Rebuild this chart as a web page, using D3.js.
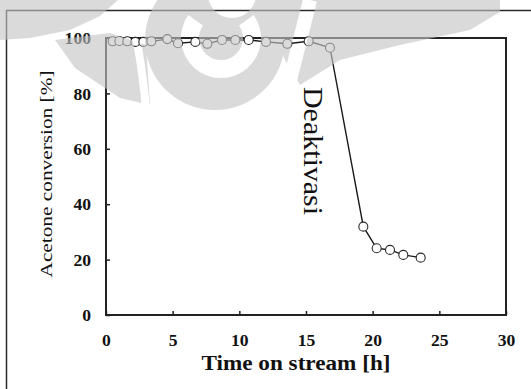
<!DOCTYPE html>
<html>
<head>
<meta charset="utf-8">
<script src="https://cdn.jsdelivr.net/npm/d3@7"></script>
<style>
  html, body { margin: 0; padding: 0; background: #fff; }
  svg { display: block; }
  text { font-family: "Liberation Serif", "Times New Roman", serif; fill: #111; }
</style>
</head>
<body>
<svg id="chart" width="531" height="389"></svg>
<script>
// Time on stream [h] and acetone conversion [%]
const timeOnStream = [0.5, 1.0, 1.6, 2.2, 2.8, 3.4, 4.6, 5.4, 6.7, 7.6, 8.7, 9.7, 10.7, 12.0, 13.6, 15.2, 16.8, 19.3, 20.3, 21.3, 22.3, 23.6];
const conversion   = [98.8, 98.9, 98.8, 98.6, 98.6, 98.8, 99.6, 98.1, 98.6, 97.9, 99.3, 99.3, 99.3, 98.6, 97.9, 98.8, 96.5, 31.9, 24.1, 23.5, 21.7, 20.7];

const xTicks = [0, 5, 10, 15, 20, 25, 30];
const yTicks = [0, 20, 40, 60, 80, 100];

const xTitle = "Time on stream [h]";
const yTitle = "Acetone conversion [%]";
const note = "Deaktivasi";

(function draw() {
  const svg = d3.select("#chart");
  const W = 531, H = 389;
  const plotL = 106, plotR = 506, plotT = 38, plotB = 315;

  const x = d3.scaleLinear().domain([0, 30]).range([plotL, plotR]);
  const y = d3.scaleLinear().domain([0, 100]).range([plotB, plotT]);

  // outer frame (only left and top edges fall inside the page)
  svg.append("path")
    .attr("d", `M6.5,${H} L6.5,10.5 L${W},10.5`)
    .attr("fill", "none").attr("stroke", "#2a2a2a").attr("stroke-width", 1.5);

  // plot border
  svg.append("rect")
    .attr("x", plotL).attr("y", plotT)
    .attr("width", plotR - plotL).attr("height", plotB - plotT)
    .attr("fill", "none").attr("stroke", "#222").attr("stroke-width", 2);

  const tickFont = sel => sel
    .style("font-family", "'Liberation Serif', serif")
    .style("font-weight", "bold").style("font-size", "16px")
    .attr("fill", "#111")
    .attr("textLength", function () { return this.textContent.length * 8.8; })
    .attr("lengthAdjust", "spacingAndGlyphs");

  // x axis with inward ticks
  const gx = svg.append("g").attr("transform", `translate(0,${plotB})`)
    .call(d3.axisBottom(x).tickValues(xTicks).tickSizeInner(-4).tickSizeOuter(0));
  gx.select(".domain").remove();
  gx.selectAll(".tick line").attr("stroke", "#222").attr("stroke-width", 1.5);
  gx.selectAll(".tick text").attr("y", 31).attr("dy", 0).call(tickFont);

  // y axis with inward ticks
  const gy = svg.append("g").attr("transform", `translate(${plotL},0)`)
    .call(d3.axisLeft(y).tickValues(yTicks).tickSizeInner(-4).tickSizeOuter(0));
  gy.select(".domain").remove();
  gy.selectAll(".tick line").attr("stroke", "#222").attr("stroke-width", 1.5);
  gy.selectAll(".tick text").attr("x", -15).attr("dy", "0.35em").call(tickFont);

  // axis titles
  svg.append("text")
    .attr("x", 296).attr("y", 370)
    .attr("text-anchor", "middle")
    .attr("textLength", 189).attr("lengthAdjust", "spacingAndGlyphs")
    .style("font-weight", "bold").style("font-size", "20px")
    .text(xTitle);

  svg.append("text")
    .attr("transform", "translate(52,174) rotate(-90)")
    .attr("text-anchor", "middle")
    .attr("textLength", 207).attr("lengthAdjust", "spacingAndGlyphs")
    .style("font-size", "17px")
    .text(yTitle);

  // series line and markers
  const pts = timeOnStream.map((t, i) => [t, conversion[i]]);
  svg.append("path")
    .datum(pts)
    .attr("fill", "none").attr("stroke", "#1a1a1a").attr("stroke-width", 1.4)
    .attr("d", d3.line().x(d => x(d[0])).y(d => y(d[1])));

  svg.selectAll("circle.pt").data(pts).enter().append("circle")
    .attr("class", "pt")
    .attr("cx", d => x(d[0])).attr("cy", d => y(d[1]))
    .attr("r", 4.5)
    .attr("fill", "#fff").attr("stroke", "#2a2a2a").attr("stroke-width", 1.1);

  // annotation for the deactivation drop
  svg.append("text")
    .attr("transform", "translate(304,87) rotate(90)")
    .attr("textLength", 128).attr("lengthAdjust", "spacingAndGlyphs")
    .style("font-size", "28px")
    .text(note);

  // translucent emblem in the page background
  const defs = svg.append("defs");
  const mask = defs.append("mask").attr("id", "emblem");
  mask.append("rect").attr("width", W).attr("height", H).attr("fill", "#000");
  const m = mask.append("g").attr("fill", "#fff");
  m.append("path").attr("d", "M0,0 L118,0 L100,16 L70,30 L30,38 L0,40 Z");
  m.append("path").attr("d", "M55,40 L110,33 L146,45 L150,105 L120,98 L75,68 Z");
  m.append("circle").attr("cx", 215).attr("cy", 40).attr("r", 70);
  m.append("path").attr("d", "M262,0 L500,0 L500,12 L470,30 L400,45 L340,60 L300,85 L285,60 Z");
  const cut = mask.append("g").attr("fill", "#000").attr("stroke", "#000");
  cut.append("circle").attr("cx", 232).attr("cy", -6).attr("r", 24).attr("stroke", "none");
  cut.append("path")
    .attr("transform", "translate(221,38)")
    .attr("stroke", "none")
    .attr("d", d3.arc().innerRadius(22).outerRadius(40)
      .startAngle(55 * Math.PI / 180).endAngle(305 * Math.PI / 180)());
  cut.append("path").attr("d", "M126,0 Q140,40 146,110").attr("fill", "none").attr("stroke-width", 8);
  cut.append("path").attr("d", "M310,0 L290,80").attr("fill", "none").attr("stroke-width", 14);

  svg.append("rect")
    .attr("width", W).attr("height", H)
    .attr("fill", "#c4c4c4").attr("opacity", 0.62)
    .attr("mask", "url(#emblem)");
})();
</script>
</body>
</html>
